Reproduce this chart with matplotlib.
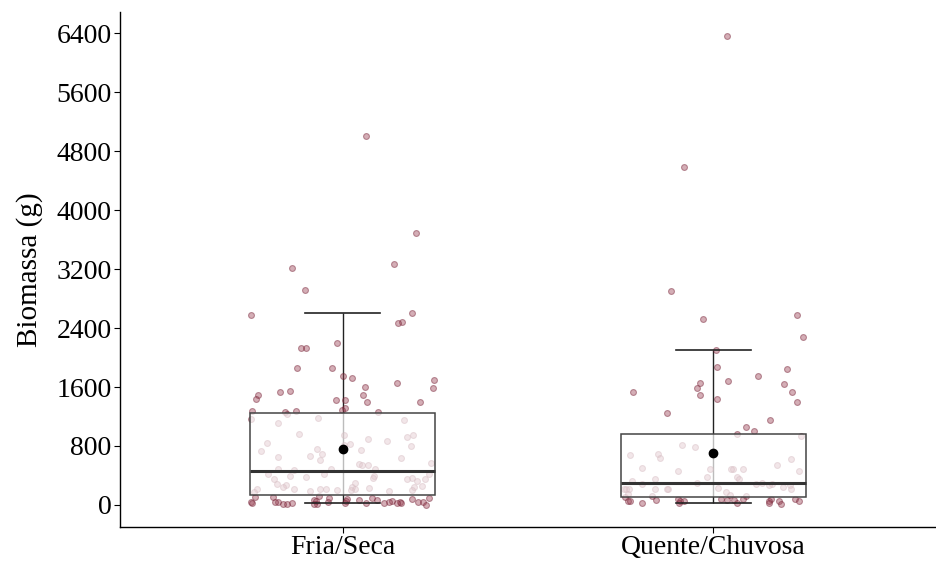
import matplotlib
matplotlib.use("Agg")
import matplotlib.pyplot as plt
import numpy as np

plt.rcParams['font.family'] = ['Liberation Serif', 'DejaVu Serif']

# Biomass per season (g)
categories = ["Fria/Seca", "Quente/Chuvosa"]

fria_seca = [
    5006, 3694, 3270, 3216, 2923, 2598, 2576, 2485, 2468, 2192, 2134, 2134,
    1859, 1859, 1745, 1728, 1691, 1660, 1602, 1583, 1548, 1529, 1494, 1494,
    1440, 1421, 1421, 1403, 1403, 1312, 1295, 1277, 1277, 1264, 1264,
    1236, 1182, 1163, 1146, 1109, 961, 947, 947, 925, 889, 871, 835, 821,
    817, 798, 758, 744, 727, 690, 668, 650, 641, 614, 564, 560, 541, 541,
    492, 483, 483, 470, 425, 415, 415, 392, 392, 379, 371, 371, 357, 357,
    348, 325, 303, 290, 267, 257, 244, 244, 244, 235, 217, 212, 212, 212,
    212, 199, 199, 199, 195, 190, 181, 122, 114, 114, 100, 100, 91, 87, 77,
    73, 68, 68, 54, 54, 50, 46, 46, 46, 41, 41, 41, 41, 37, 32, 30, 27, 27,
    27, 23, 20, 18, 14, 12, 9, 5,
]

quente_chuvosa = [
    6369, 4586, 2905, 2571, 2517, 2283, 2097, 1877, 1840, 1751, 1678, 1660,
    1643, 1588, 1534, 1534, 1498, 1440, 1403, 1241, 1146, 1055, 1001, 961,
    930, 817, 781, 690, 672, 636, 618, 547, 506, 492, 492, 492, 492, 456,
    456, 379, 379, 348, 348, 321, 303, 303, 284, 284, 284, 267, 267, 249,
    230, 212, 212, 212, 212, 212, 212, 212, 176, 145, 141, 122, 122, 108,
    87, 87, 87, 87, 87, 68, 68, 68, 50, 50, 50, 50, 50, 50, 50, 32, 32, 32,
    32, 14,
]

# Box summaries: lower whisker, Q1, median, Q3, upper whisker, mean
whisker_low = [23, 23]
q1 = [136, 109]
median = [463, 300]
q3 = [1253, 967]
whisker_high = [2601, 2097]
means = [762, 708]

positions = [1, 2]

fig = plt.figure(figsize=(9.36, 5.63), dpi=100)
ax = fig.add_axes([0.1282, 0.0639, 0.8718, 0.9148])

# jittered points
rng = np.random.default_rng(7)
for pos, vals in zip(positions, [fria_seca, quente_chuvosa]):
    vals = np.asarray(vals, dtype=float)
    xj = pos + rng.uniform(-0.25, 0.25, len(vals))
    ax.scatter(xj, vals, s=18, facecolor=(0.6, 0.25, 0.32, 0.42),
               edgecolor=(0.45, 0.12, 0.2, 0.45), linewidth=0.8, zorder=2)

# error-bar style whisker running through the box
ax.vlines(positions, whisker_low, whisker_high, color="#222222", lw=1.0, zorder=1)

stats = []
for i in range(len(categories)):
    stats.append(dict(med=median[i], q1=q1[i], q3=q3[i], whislo=whisker_low[i],
                      whishi=whisker_high[i], mean=means[i], fliers=[]))

ax.bxp(stats, positions=positions, widths=0.5, capwidths=0.2, patch_artist=True,
       showmeans=True, showfliers=False,
       boxprops=dict(facecolor=(1, 1, 1, 0.7), edgecolor="#444444", linewidth=1.1, zorder=3),
       medianprops=dict(color="#333333", linewidth=2.2, zorder=4),
       whiskerprops=dict(color="#222222", linewidth=0, zorder=1),
       capprops=dict(color="#222222", linewidth=1.2, zorder=4),
       meanprops=dict(marker="o", markerfacecolor="black", markeredgecolor="black",
                      markersize=6, zorder=5))

ax.set_xlim(0.4, 2.6)
ax.set_ylim(-300, 6690)
ax.set_yticks(np.arange(0, 6401, 800))
ax.set_xticks(positions)
ax.set_xticklabels(categories)
ax.tick_params(axis="both", labelsize=20, length=4, width=0.8, colors="black", pad=2)
ax.set_ylabel("Biomassa (g)", fontsize=21, labelpad=10)

for side in ["top", "right"]:
    ax.spines[side].set_visible(False)
for side in ["left", "bottom"]:
    ax.spines[side].set_linewidth(1.0)

fig.savefig("out.png", dpi=100)
